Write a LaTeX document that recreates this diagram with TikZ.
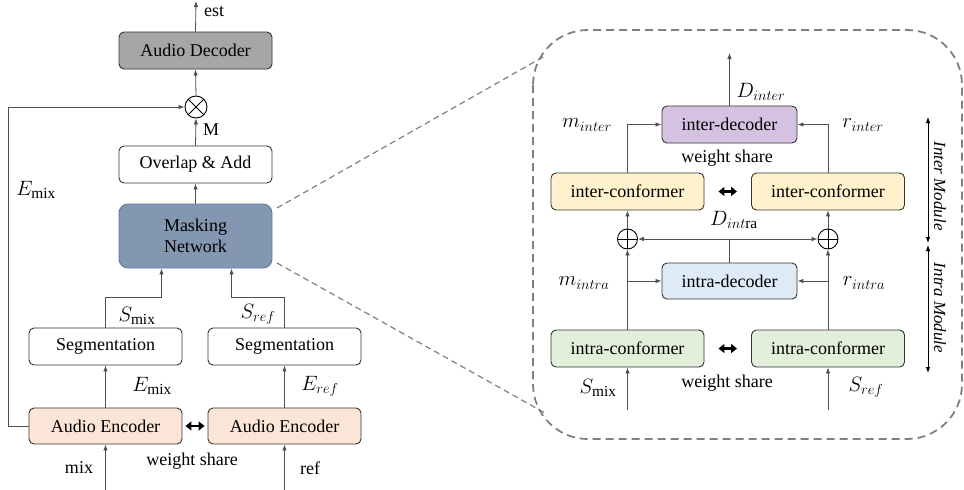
\documentclass[tikz,border=0pt]{standalone}
\usepackage{fontspec}
\setmainfont{Liberation Serif}
\usetikzlibrary{arrows.meta}
\definecolor{cmask}{HTML}{8497B0}
\definecolor{cmaskb}{HTML}{5A7BA6}
\definecolor{cdec}{HTML}{A6A6A6}
\definecolor{cenc}{HTML}{FBE5D6}
\definecolor{cpur}{HTML}{D5C2E3}
\definecolor{cyel}{HTML}{FFF2CC}
\definecolor{cblu}{HTML}{DEEBF7}
\definecolor{cgrn}{HTML}{E2EFDA}
\definecolor{cline}{HTML}{505050}
\begin{document}
\begin{tikzpicture}[x=1pt,y=-1pt,
  every node/.style={font=\fontsize{18}{21}\selectfont, inner sep=0pt},
  blk/.style={draw=black!80, line width=0.9pt, rounded corners=5pt, minimum width=153pt, minimum height=37pt, align=center},
  conn/.style={draw=cline, line width=0.8pt},
  arr/.style={conn, -{Latex[length=6pt,width=4.5pt]}},
  darr/.style={conn, {Latex[length=6pt,width=4.5pt]}-{Latex[length=6pt,width=4.5pt]}},
  wshare/.style={draw=black, line width=2.8pt, {Triangle[length=6pt,width=9pt]}-{Triangle[length=6pt,width=9pt]}, shorten <=#1, shorten >=#1},
  opcirc/.style={circle, draw=black, line width=0.9pt, minimum size=#1},
  lbl/.style={inner sep=1pt},
  mlbl/.style={inner sep=1pt, font=\fontsize{22}{24}\selectfont},
  frame/.style={draw=gray, line width=1.8pt, dash pattern=on 8pt off 5pt}
]
\useasboundingbox (0,0) rectangle (964,490);

% ---------------- left part ----------------
\node[blk, fill=cdec] (dec) at (195.5,50.5) {Audio Decoder};
\node[opcirc=22pt] (otm) at (196,107) {};
\draw[line width=0.9pt] ([shift={(45:11pt)}]otm.center) -- ([shift={(225:11pt)}]otm.center)
  ([shift={(135:11pt)}]otm.center) -- ([shift={(-45:11pt)}]otm.center);
\node[blk, fill=white] (ovl) at (195.5,164.5) {Overlap \& Add};
\node[blk, fill=cmask, draw=cmaskb, minimum height=64pt, rounded corners=9pt] (mask) at (195.5,236) {Masking\\Network};
\node[blk, fill=white] (segL) at (105.5,346.5) {Segmentation};
\node[blk, fill=white] (segR) at (284.5,346.5) {Segmentation};
\node[blk, fill=cenc, minimum height=36pt] (encL) at (105.5,426) {Audio Encoder};
\node[blk, fill=cenc, minimum height=36pt] (encR) at (284.5,426) {Audio Encoder};

\coordinate (estc) at (196,1);
\coordinate (mixin) at (105.5,490);
\coordinate (refin) at (284.5,490);
\coordinate (loopB) at (8,426);
\coordinate (loopT) at (8,107);

\draw[arr] (dec.north) -- (estc);
\draw[arr] (otm.north) -- (dec.south);
\draw[arr] (ovl.north) -- (otm.south);
\draw[arr] (mask.north) -- (ovl.south);
\draw[arr] (encL.west) -- (loopB) -- (loopT) -- (otm.west);
\draw[arr] (segL.north) -- ++(0,-30) -| ([xshift=-34pt]mask.south);
\draw[arr] (segR.north) -- ++(0,-30) -| ([xshift=36pt]mask.south);
\draw[arr] (encL.north) -- (segL.south);
\draw[arr] (encR.north) -- (segR.south);
\draw[arr] (mixin) -- (encL.south);
\draw[arr] (refin) -- (encR.south);
\draw[wshare=3pt] (encL.east) -- (encR.west);

\node[lbl, anchor=west] (tEst) at (203,12) {est};
\node[lbl, anchor=west] (tM) at (202,130) {M};
\node[mlbl] (tEmix1) at (36,190) {$E_{\mathrm{mix}}$};
\node[mlbl] (tSmix) at (137,316) {$S_{\mathrm{mix}}$};
\node[mlbl] (tSref) at (258,314) {$S_{ref}$};
\node[mlbl] (tEmix2) at (152,386) {$E_{\mathrm{mix}}$};
\node[mlbl] (tEref) at (320,386) {$E_{ref}$};
\node[lbl] (tWs1) at (192,461) {weight share};
\node[lbl] (tMix) at (79,468) {mix};
\node[lbl] (tRef) at (310,468) {ref};

% ---------------- zoom frame ----------------
\draw[frame, rounded corners=55pt] (533,30) rectangle (962,439);
\coordinate (zA) at (277,208);
\coordinate (zB) at (543,57);
\coordinate (zC) at (277,263);
\coordinate (zD) at (545,413);
\draw[draw=gray, line width=1.2pt, dash pattern=on 6pt off 4pt] (zA) -- (zB);
\draw[draw=gray, line width=1.2pt, dash pattern=on 6pt off 4pt] (zC) -- (zD);

% ---------------- right part ----------------
\node[blk, fill=cpur, minimum width=135pt] (idec) at (729.5,124.5) {inter-decoder};
\node[blk, fill=cyel] (icL) at (627.5,191.5) {inter-conformer};
\node[blk, fill=cyel] (icR) at (828,191.5) {inter-conformer};
\node[opcirc=20pt] (opL) at (627.5,239) {};
\node[opcirc=20pt] (opR) at (828,239) {};
\draw[line width=0.9pt] (opL.north) -- (opL.south) (opL.west) -- (opL.east);
\draw[line width=0.9pt] (opR.north) -- (opR.south) (opR.west) -- (opR.east);
\node[blk, fill=cblu, minimum width=135pt, minimum height=36pt] (adec) at (729.5,281) {intra-decoder};
\node[blk, fill=cgrn] (acL) at (627.5,348.5) {intra-conformer};
\node[blk, fill=cgrn] (acR) at (828,348.5) {intra-conformer};

\coordinate (dOut) at (729.5,53);
\coordinate (split) at (729.5,239);
\coordinate (brL) at (627.5,281);
\coordinate (brR) at (828,281);
\coordinate (inL) at (627.5,410);
\coordinate (inR) at (828,410);

\draw[arr] (idec.north) -- (dOut);
\draw[arr] (icL.north) |- (idec.west);
\draw[arr] (icR.north) |- (idec.east);
\draw[arr] (opL.north) -- (icL.south);
\draw[arr] (opR.north) -- (icR.south);
\draw[conn] (adec.north) -- (split);
\draw[arr] (split) -- (opL.east);
\draw[arr] (split) -- (opR.west);
\draw[arr] (acL.north) -- (opL.south);
\draw[arr] (acR.north) -- (opR.south);
\draw[arr] (brL) -- (adec.west);
\draw[arr] (brR) -- (adec.east);
\draw[arr] (inL) -- (acL.south);
\draw[arr] (inR) -- (acR.south);
\draw[wshare=14pt] (icL.east) -- (icR.west);
\draw[wshare=14pt] (acL.east) -- (acR.west);

\node[mlbl] (tDinter) at (761,92) {$D_{inter}$};
\node[mlbl] (tminter) at (587,125) {$m_{inter}$};
\node[mlbl] (trinter) at (863,125) {$r_{inter}$};
\node[lbl] (tWs2) at (727,158) {weight share};
\node[mlbl] (tDintra) at (734,220) {$D_{int\mathrm{ra}}$};
\node[mlbl] (tmintra) at (584,283) {$m_{intra}$};
\node[mlbl] (trintra) at (864,283) {$r_{intra}$};
\node[lbl] (tWs3) at (727,383) {weight share};
\node[mlbl] (tSmix2) at (598,388) {$S_{\mathrm{mix}}$};
\node[mlbl] (tSref2) at (866,387) {$S_{ref}$};

% module arrows
\coordinate (m1t) at (928,117);
\coordinate (m1b) at (928,243);
\coordinate (m2t) at (928,245);
\coordinate (m2b) at (928,373);
\draw[darr, draw=black] (m1t) -- (m1b);
\draw[darr, draw=black] (m2t) -- (m2b);
\node[lbl, rotate=-90, font=\fontsize{17}{20}\selectfont\itshape] (tInter) at (940,186) {Inter Module};
\node[lbl, rotate=-90, font=\fontsize{17}{20}\selectfont\itshape] (tIntra) at (940,308) {Intra Module};
\end{tikzpicture}
\end{document}
